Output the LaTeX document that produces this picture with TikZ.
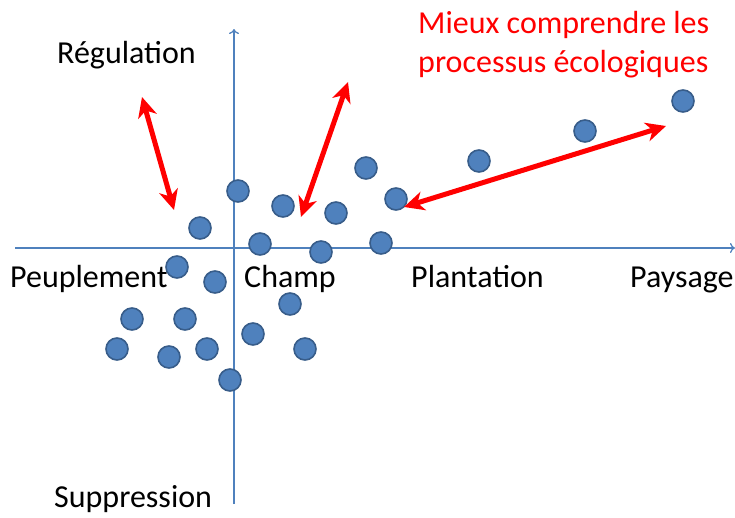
\documentclass[tikz,border=0pt]{standalone}
\usepackage{fontspec}
\setmainfont{Carlito}
\usetikzlibrary{arrows.meta}
\definecolor{axisblue}{HTML}{4F81BD}
\definecolor{dotfill}{HTML}{4F81BD}
\definecolor{dotdraw}{HTML}{385D8A}
\definecolor{redarrow}{HTML}{FF0000}
\begin{document}
\begin{tikzpicture}[x=1pt,y=-1pt,
  dot/.style={circle,fill=dotfill,draw=dotdraw,line width=1.6pt,minimum size=22pt,inner sep=0pt},
  lbl/.style={anchor=base west,inner sep=0pt,font=\fontsize{32}{38}\selectfont},
  redlbl/.style={lbl,text=redarrow},
  axis/.style={draw=axisblue,line width=1.3pt,-{To[length=5pt,width=10pt]}},
  bigarrow/.style={draw=redarrow,line width=5pt,{Stealth[length=20pt,width=19pt,inset=6pt]}-{Stealth[length=20pt,width=19pt,inset=6pt]}}]
\useasboundingbox (0,0) rectangle (735,517);
% axes
\coordinate (xs) at (15,248);
\coordinate (xe) at (735,248);
\coordinate (ys) at (234,504);
\coordinate (ye) at (234,29);
\draw[axis] (xs) -- (xe);
\draw[axis] (ys) -- (ye);
% dots
\node[dot] (d1) at (238,191) {};
\node[dot] (d2) at (200,228) {};
\node[dot] (d3) at (283,206) {};
\node[dot] (d4) at (260,244) {};
\node[dot] (d5) at (336,213) {};
\node[dot] (d6) at (366,168) {};
\node[dot] (d7) at (396,199) {};
\node[dot] (d8) at (321,252) {};
\node[dot] (d9) at (381,243) {};
\node[dot] (d10) at (479,161) {};
\node[dot] (d11) at (585,131) {};
\node[dot] (d12) at (683,101) {};
\node[dot] (d13) at (177,267) {};
\node[dot] (d14) at (215,282) {};
\node[dot] (d15) at (132,319) {};
\node[dot] (d16) at (185,319) {};
\node[dot] (d17) at (117,349) {};
\node[dot] (d18) at (169,357) {};
\node[dot] (d19) at (207,349) {};
\node[dot] (d20) at (253,334) {};
\node[dot] (d21) at (290,304) {};
\node[dot] (d22) at (305,349) {};
\node[dot] (d23) at (230,380) {};
% labels
\node[lbl] (reg) at (57,63) {Régulation};
\node[lbl] (peu) at (10,287) {Peuplement};
\node[lbl] (cha) at (244,287) {Champ};
\node[lbl] (pla) at (411,287) {Plantation};
\node[lbl] (pay) at (630,287) {Paysage};
\node[lbl] (sup) at (54,507) {Suppression};
\node[redlbl] (m1) at (418,33) {Mieux comprendre les};
\node[redlbl] (m2) at (418,72) {processus écologiques};
% red arrows
\coordinate (a1s) at (142,97);
\coordinate (a1e) at (174,210);
\coordinate (a2s) at (348,82);
\coordinate (a2e) at (301,217);
\coordinate (a3s) at (404,207);
\coordinate (a3e) at (666,126);
\draw[bigarrow] (a1s) -- (a1e);
\draw[bigarrow] (a2s) -- (a2e);
\draw[bigarrow] (a3s) -- (a3e);
\end{tikzpicture}
\end{document}
